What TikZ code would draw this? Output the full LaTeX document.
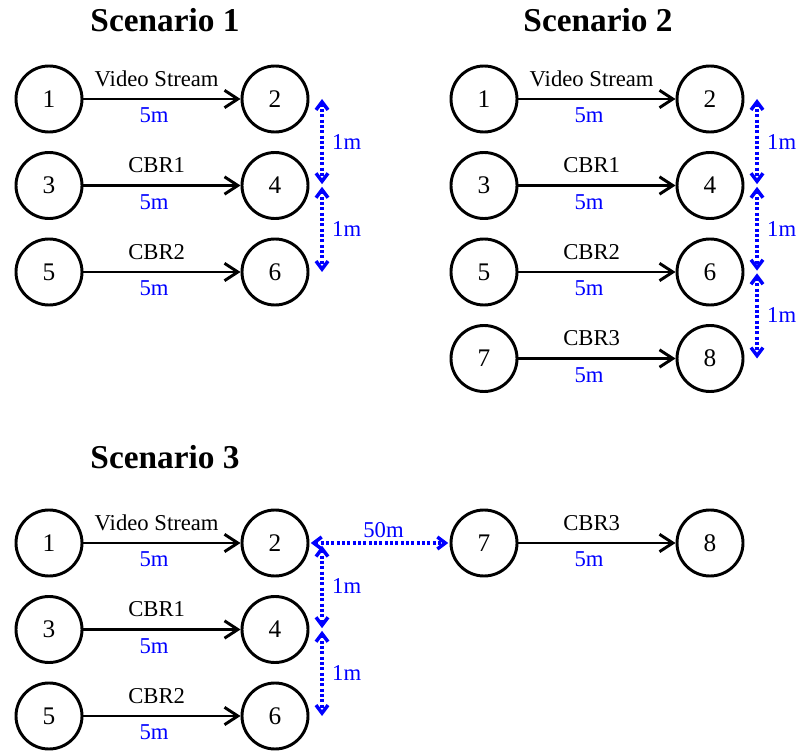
\documentclass[tikz,border=0pt]{standalone}
\usepackage{fontspec}
\setmainfont{Liberation Serif}
\usetikzlibrary{arrows.meta,calc}

\begin{document}
\begin{tikzpicture}[
  x=0.75pt, y=-0.75pt,
  font=\fontsize{17}{20}\selectfont,
  station/.style={draw, circle, line width=2.2pt, minimum size=49.5pt, inner sep=0pt, font=\fontsize{19}{22}\selectfont},
  link/.style={-{Straight Barb[length=10pt,width=13pt]}, line width=2.2pt},
  gap/.style={{Straight Barb[length=6pt,width=9pt]}-{Straight Barb[length=6pt,width=9pt]}, blue, line width=2.6pt, dash pattern=on 2.2pt off 1.8pt},
  title/.style={anchor=base, font=\fontsize{25}{30}\selectfont\bfseries},
  flow/.style={anchor=base, yshift=9.5pt, xshift=-4pt},
  dist/.style={anchor=base, yshift=-17.8pt, xshift=-6pt, text=blue},
  gaplabel/.style={right, text=blue, xshift=3pt}
]
\useasboundingbox (0,0) rectangle (796,752);

% Scenario 1
\node[title] (t1) at (165,32) {Scenario 1};
\node[station] (a1) at (49,99) {1};
\node[station] (a2) at (275,99) {2};
\node[station] (a3) at (49,185.5) {3};
\node[station] (a4) at (275,185.5) {4};
\node[station] (a5) at (49,272) {5};
\node[station] (a6) at (275,272) {6};

\draw[link] (a1) -- node[flow]{Video Stream} node[dist]{5m} (a2);
\draw[link] (a3) -- node[flow]{CBR1} node[dist]{5m} (a4);
\draw[link] (a5) -- node[flow]{CBR2} node[dist]{5m} (a6);

\coordinate (ga2) at ($(a2)+(47,0)$);
\coordinate (ga4) at ($(a4)+(47,0)$);
\coordinate (ga6) at ($(a6)+(47,0)$);
\draw[gap, shorten >=1pt] (ga2) -- node[gaplabel]{1m} (ga4);
\draw[gap, shorten <=1pt] (ga4) -- node[gaplabel]{1m} (ga6);

% Scenario 2
\node[title] (t2) at (598,32) {Scenario 2};
\node[station] (b1) at (484,99) {1};
\node[station] (b2) at (710,99) {2};
\node[station] (b3) at (484,185.5) {3};
\node[station] (b4) at (710,185.5) {4};
\node[station] (b5) at (484,272) {5};
\node[station] (b6) at (710,272) {6};
\node[station] (b7) at (484,358.5) {7};
\node[station] (b8) at (710,358.5) {8};

\draw[link] (b1) -- node[flow]{Video Stream} node[dist]{5m} (b2);
\draw[link] (b3) -- node[flow]{CBR1} node[dist]{5m} (b4);
\draw[link] (b5) -- node[flow]{CBR2} node[dist]{5m} (b6);
\draw[link] (b7) -- node[flow]{CBR3} node[dist]{5m} (b8);

\coordinate (gb2) at ($(b2)+(47,0)$);
\coordinate (gb4) at ($(b4)+(47,0)$);
\coordinate (gb6) at ($(b6)+(47,0)$);
\coordinate (gb8) at ($(b8)+(47,0)$);
\draw[gap, shorten >=1pt] (gb2) -- node[gaplabel]{1m} (gb4);
\draw[gap, shorten <=1pt, shorten >=1pt] (gb4) -- node[gaplabel]{1m} (gb6);
\draw[gap, shorten <=1pt] (gb6) -- node[gaplabel]{1m} (gb8);

% Scenario 3
\node[title] (t3) at (165,468) {Scenario 3};
\node[station] (c1) at (49,543) {1};
\node[station] (c2) at (275,543) {2};
\node[station] (c3) at (49,629.5) {3};
\node[station] (c4) at (275,629.5) {4};
\node[station] (c5) at (49,716) {5};
\node[station] (c6) at (275,716) {6};
\node[station] (c7) at (484,543) {7};
\node[station] (c8) at (710,543) {8};

\draw[link] (c1) -- node[flow]{Video Stream} node[dist]{5m} (c2);
\draw[link] (c3) -- node[flow]{CBR1} node[dist]{5m} (c4);
\draw[link] (c5) -- node[flow]{CBR2} node[dist]{5m} (c6);
\draw[link] (c7) -- node[flow]{CBR3} node[dist]{5m} (c8);

\coordinate (gc2) at ($(c2)+(47,0)$);
\coordinate (gc4) at ($(c4)+(47,0)$);
\coordinate (gc6) at ($(c6)+(47,0)$);
\draw[gap, shorten <=1pt, shorten >=1pt] (c2.east) -- node[above, text=blue, yshift=-1pt, xshift=3pt]{50m} (c7.west);
\draw[gap, shorten <=2pt, shorten >=1pt] (gc2) -- node[gaplabel]{1m} (gc4);
\draw[gap, shorten <=1pt] (gc4) -- node[gaplabel]{1m} (gc6);
\end{tikzpicture}
\end{document}
